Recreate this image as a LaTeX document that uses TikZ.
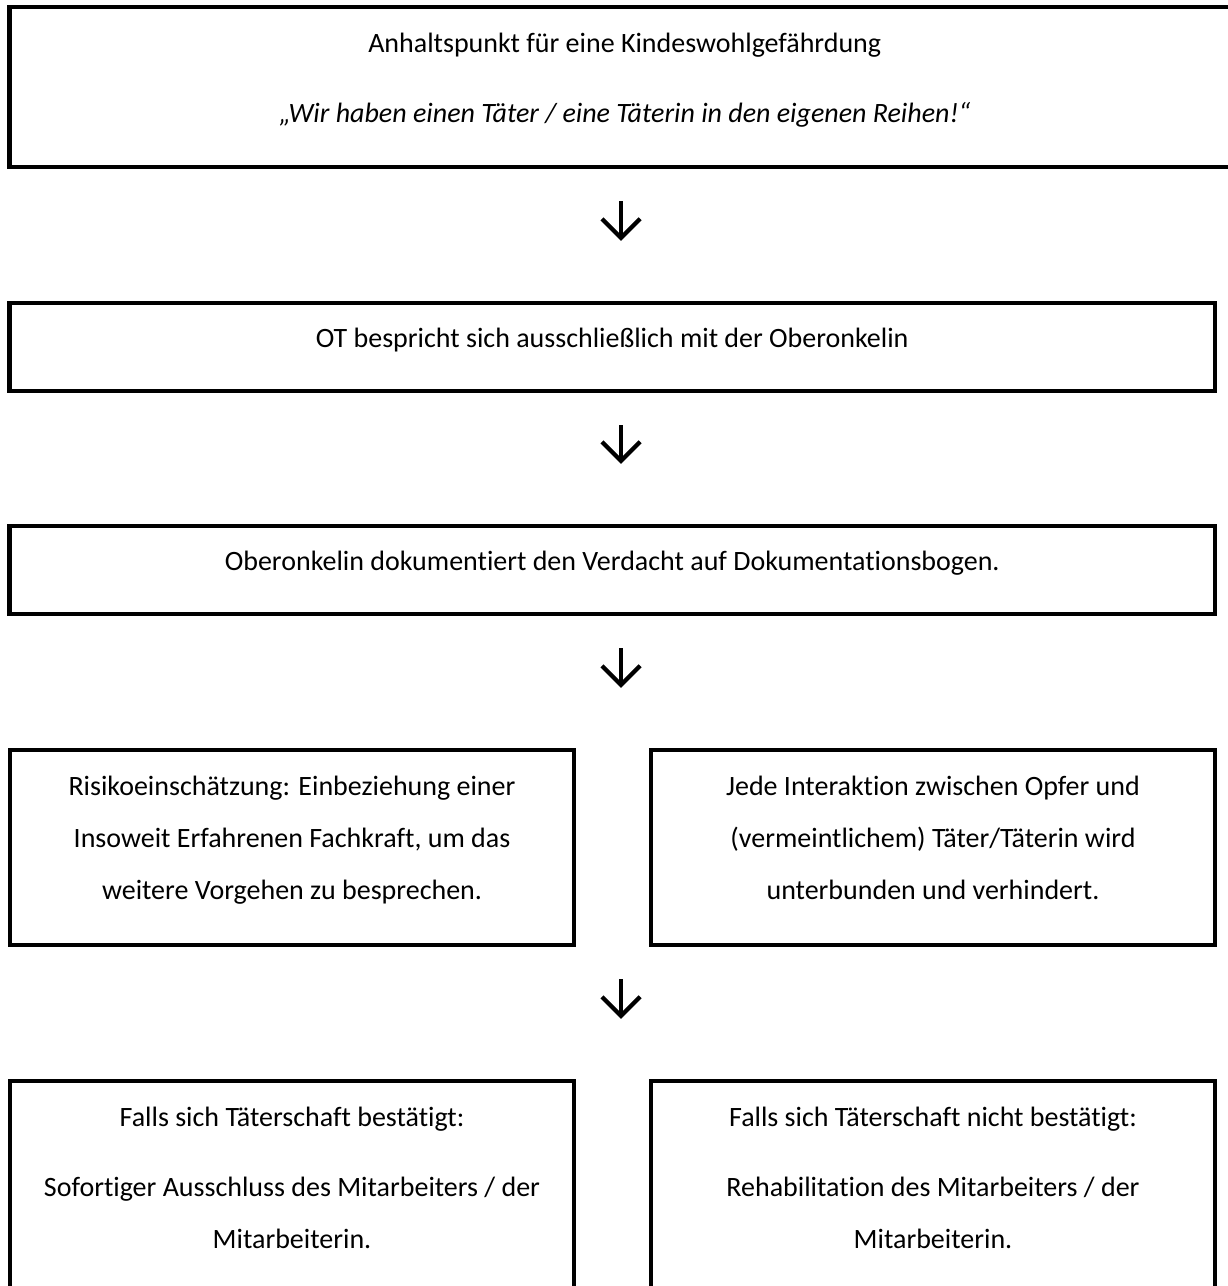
\documentclass[tikz,border=0pt]{standalone}
\usepackage{fontspec}
\setmainfont{Carlito}[Ligatures=NoCommon]
\usetikzlibrary{arrows.meta}
\newdimen\px
\px=0.393pt

\tikzset{
	stepbox/.style={draw, line width=1.6pt, align=center, inner sep=0pt, text height=0pt, text depth=0pt, font=\fontsize{11}{20.4}\selectfont},
	flow/.style={line width=1.7pt, shorten <=32\px, shorten >=60\px, -{Straight Barb[length=7.5pt, width=15pt]}},
}

\begin{document}
\begin{tikzpicture}[x=0.393pt, y=-0.393pt]
		\useasboundingbox (0,0) rectangle (1228,1286);
		\node[stepbox, minimum width=1230.5\px, minimum height=160\px, text height=70\px] (anhalt) at (624.75,87) {Anhaltspunkt für eine Kindeswohlgefährdung\\[7.1pt]\textit{„Wir haben einen Täter / eine Täterin in den eigenen Reihen!“}};
		\node[stepbox, minimum width=1205.5\px, minimum height=88\px] (ot) at (612.25,347) {OT bespricht sich ausschließlich mit der Oberonkelin};
		\node[stepbox, minimum width=1205.5\px, minimum height=88\px] (doku) at (612.25,570) {Oberonkelin dokumentiert den Verdacht auf Dokumentationsbogen.};
		\node[stepbox, minimum width=564\px, minimum height=195\px, text height=104\px] (risiko) at (292,847.5) {Risikoeinschätzung: Einbeziehung einer\\Insoweit Erfahrenen Fachkraft, um das\\weitere Vorgehen zu besprechen.};
		\node[stepbox, minimum width=564\px, minimum height=195\px, text height=104\px] (schutz) at (933,847.5) {Jede Interaktion zwischen Opfer und\\(vermeintlichem) Täter/Täterin wird\\unterbunden und verhindert.};
		\node[stepbox, minimum width=564\px, minimum height=212\px, text height=122\px] (ja) at (292,1187) {Falls sich Täterschaft bestätigt:\\[7.1pt]Sofortiger Ausschluss des Mitarbeiters / der\\Mitarbeiterin.};
		\node[stepbox, minimum width=564\px, minimum height=212\px, text height=122\px] (nein) at (933,1187) {Falls sich Täterschaft nicht bestätigt:\\[7.1pt]Rehabilitation des Mitarbeiters / der\\Mitarbeiterin.};
		% arrows sit a bit right of the middle
		\coordinate (mitte) at (621,0);
		\draw[flow] (anhalt.south -| mitte) -- (ot.north -| mitte);
		\draw[flow] (ot.south -| mitte) -- (doku.north -| mitte);
		\draw[flow] (doku.south -| mitte) -- (risiko.north -| mitte);
		\draw[flow] (risiko.south -| mitte) -- (ja.north -| mitte);
	\end{tikzpicture}
\end{document}
